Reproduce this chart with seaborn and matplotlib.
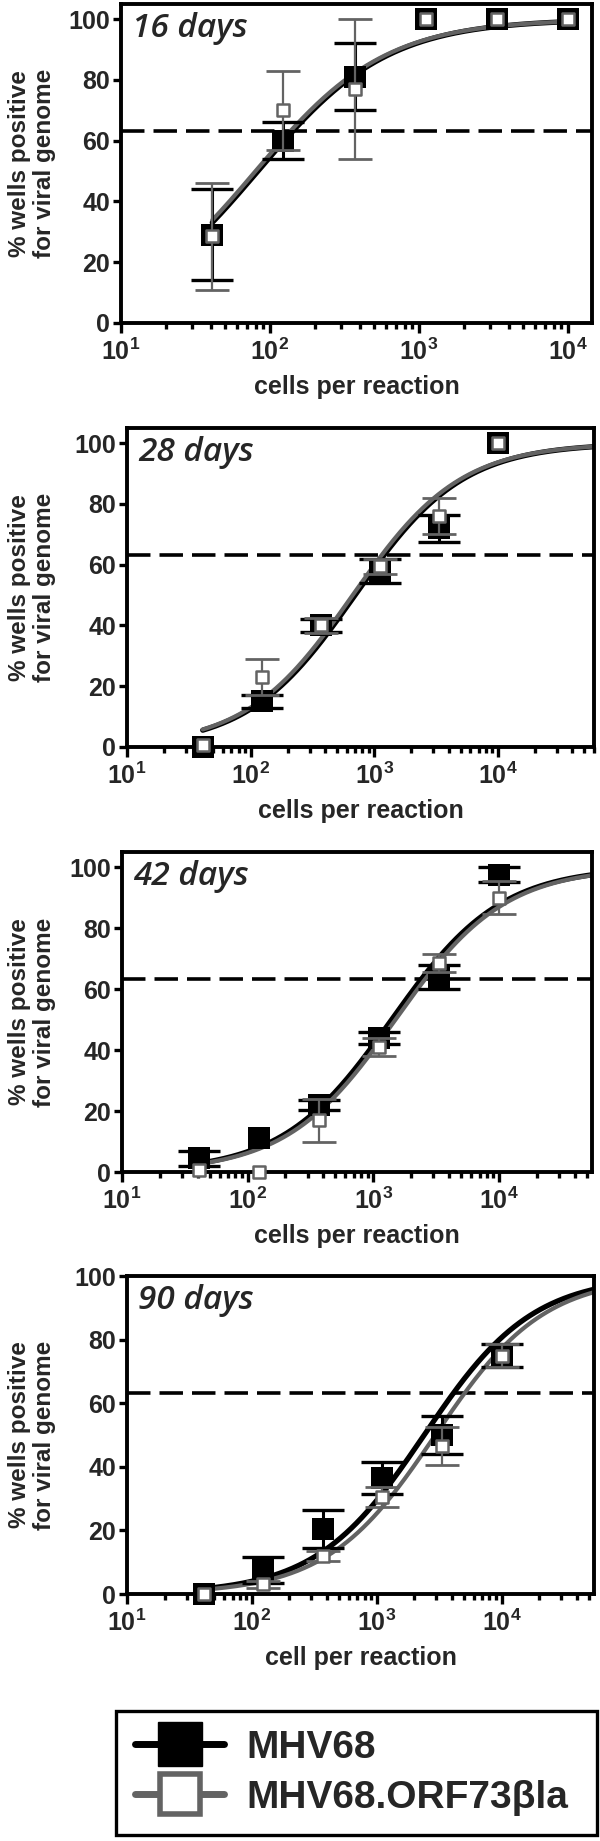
import numpy as np
import seaborn as sns
import matplotlib.pyplot as plt
from matplotlib.lines import Line2D
from matplotlib.ticker import LogLocator, NullFormatter

# 3-fold dilution series (cells per reaction)
cells = [41, 123, 370, 1111, 3333, 10000]
days = ['16 days', '28 days', '42 days', '90 days']
xlabels = ['cells per reaction', 'cells per reaction', 'cells per reaction', 'cell per reaction']

# MHV68 (filled black squares), mean and SEM per panel
wt_mean = [[29, 60, 81, 100, 100, 100],
           [0, 15, 40, 58, 72, 100],
           [4.5, 11, 22, 44, 64, 97.5],
           [0, 7.5, 20.5, 36.5, 50, 75]]
wt_sem = [[15, 6, 11, 0, 0, 0],
          [0, 2, 2, 4, 4.5, 0],
          [2.5, 0, 1.5, 2, 4, 2.5],
          [0, 4, 6, 5, 6, 3.5]]

# MHV68.ORF73βla (open grey squares)
mut_mean = [[28.5, 70, 77, 100, 100, 100],
            [0.5, 23, 40, 59.5, 76, 100],
            [0.5, 0, 17, 41, 68.5, 90],
            [0, 3, 12, 30.5, 46.5, 75]]
mut_sem = [[17.5, 13, 23, 0, 0, 0],
           [0, 6, 2.5, 2.5, 6, 0],
           [0, 0, 7, 3, 3, 5.5],
           [0, 1, 1.5, 3, 6, 3.5]]

# fitted dose-response curves: EC50 and hill slope
wt_ec50 = [83, 700, 1400, 2400]
mut_ec50 = [80, 670, 1500, 2950]
hill = [1.0, 1.0, 1.0, 1.0]
curve_end = [10000, 6e4, 5.5e4, 5.5e4]

xmax = [1.45e4, 6e4, 5.5e4, 5.5e4]
ytop = [105, 105, 105, 100]
threshold = 63.2
yticks = [0, 20, 40, 60, 80, 100]
xticks = [10, 100, 1000, 10000]
xticklabels = [r'$\mathbf{10^{1}}$', r'$\mathbf{10^{2}}$', r'$\mathbf{10^{3}}$', r'$\mathbf{10^{4}}$']

GREY = '#636363'
W, H = 600, 1841

sns.set_theme(style='ticks')
plt.rcParams['font.family'] = ['Liberation Sans', 'DejaVu Sans']
plt.rcParams['mathtext.fontset'] = 'custom'
plt.rcParams['mathtext.bf'] = 'Liberation Sans:bold'
plt.rcParams['mathtext.rm'] = 'Liberation Sans:bold'

fig = plt.figure(figsize=(W / 100, H / 100), dpi=100)

# axes boxes in pixels: left, top, right, bottom
boxes = [(121, 4, 592, 323), (127, 428, 594, 747), (122, 852, 592, 1172), (127, 1276, 594, 1594)]


def sigmoid(x, ec50, h):
    return 100 / (1 + (ec50 / x) ** h)


for i, (l, t, r, b) in enumerate(boxes):
    ax = fig.add_axes([l / W, 1 - b / H, (r - l) / W, (b - t) / H])
    ax.set_xscale('log')

    ax.axhline(threshold, color='black', lw=2.6, ls=(0, (6.5, 2.5)), zorder=1.5)

    xs = np.logspace(np.log10(cells[0]), np.log10(curve_end[i]), 300)
    sns.lineplot(x=xs, y=sigmoid(xs, wt_ec50[i], hill[i]), ax=ax, color='black', lw=3.8, zorder=2)
    sns.lineplot(x=xs, y=sigmoid(xs, mut_ec50[i], hill[i]), ax=ax, color=GREY, lw=3.0, zorder=2.1)

    x = np.array(cells)
    m, s = np.array(wt_mean[i]), np.array(wt_sem[i])
    k = s > 0
    ax.errorbar(x[k], m[k], yerr=s[k], fmt='none', ecolor='black', elinewidth=2.2,
                capsize=15, capthick=2.4, zorder=3)
    sns.scatterplot(x=x, y=m, ax=ax, marker='s', s=240, color='black', edgecolor='black',
                    linewidth=0, zorder=4, clip_on=False)

    m, s = np.array(mut_mean[i]), np.array(mut_sem[i])
    k = s > 0
    ax.errorbar(x[k], m[k], yerr=s[k], fmt='none', ecolor=GREY, elinewidth=1.6,
                capsize=12, capthick=2.0, zorder=5)
    sns.scatterplot(x=x, y=m, ax=ax, marker='s', s=85, color='white', edgecolor=GREY,
                    linewidth=1.8, zorder=6, clip_on=False)

    ax.set_xlim(10, xmax[i])
    ax.set_ylim(0, ytop[i])
    ax.set_yticks(yticks)
    ax.set_yticklabels([str(v) for v in yticks], fontsize=18, fontweight='bold')
    ax.set_xticks(xticks, labels=xticklabels, fontsize=18)
    ax.xaxis.set_minor_locator(LogLocator(base=10, subs=np.arange(2, 10)))
    ax.xaxis.set_minor_formatter(NullFormatter())
    ax.tick_params(axis='y', which='major', length=6, width=2.4, pad=2, color='black')
    ax.tick_params(axis='x', which='major', length=7, width=2.4, pad=4, color='black')
    ax.tick_params(axis='x', which='minor', length=4.5, width=2.4, color='black')
    for sp in ax.spines.values():
        sp.set_visible(True)
        sp.set_linewidth(2.8)
        sp.set_color('black')

    ax.set_xlabel(xlabels[i], fontsize=18, fontweight='bold')
    ax.xaxis.set_label_coords(0.5, -64 / (b - t))
    ax.xaxis.label.set_va('center')
    ax.set_ylabel('% wells positive\nfor viral genome', fontsize=17.5, fontweight='bold',
                  linespacing=1.15)
    ax.yaxis.set_label_coords((32 - l) / (r - l), 0.5)
    ax.yaxis.label.set_va('center')

    ax.text(0.024, 0.975, days[i], transform=ax.transAxes, ha='left', va='top',
            fontsize=24, style='italic', fontweight='semibold', family='Open Sans')

# legend box at the bottom
handles = [Line2D([0], [0], color='black', lw=5, marker='s', ms=31, mfc='black', mec='black'),
           Line2D([0], [0], color=GREY, lw=5, marker='s', ms=29, mfc='white', mec=GREY, mew=4)]
labels = ['MHV68', 'MHV68.ORF73\u03b2la']
leg = fig.legend(handles, labels, loc='center', mode='expand',
                 bbox_to_anchor=(116 / W, 1 - 1837 / H, (597 - 116) / W, (1837 - 1709) / H),
                 prop={'weight': 'bold', 'size': 28}, frameon=True, fancybox=False,
                 framealpha=1, edgecolor='black', handlelength=2.3, handletextpad=0.55,
                 borderpad=0.49, labelspacing=0.36, borderaxespad=0)
leg.get_frame().set_linewidth(2.4)

fig.savefig('out.png', dpi=100)
